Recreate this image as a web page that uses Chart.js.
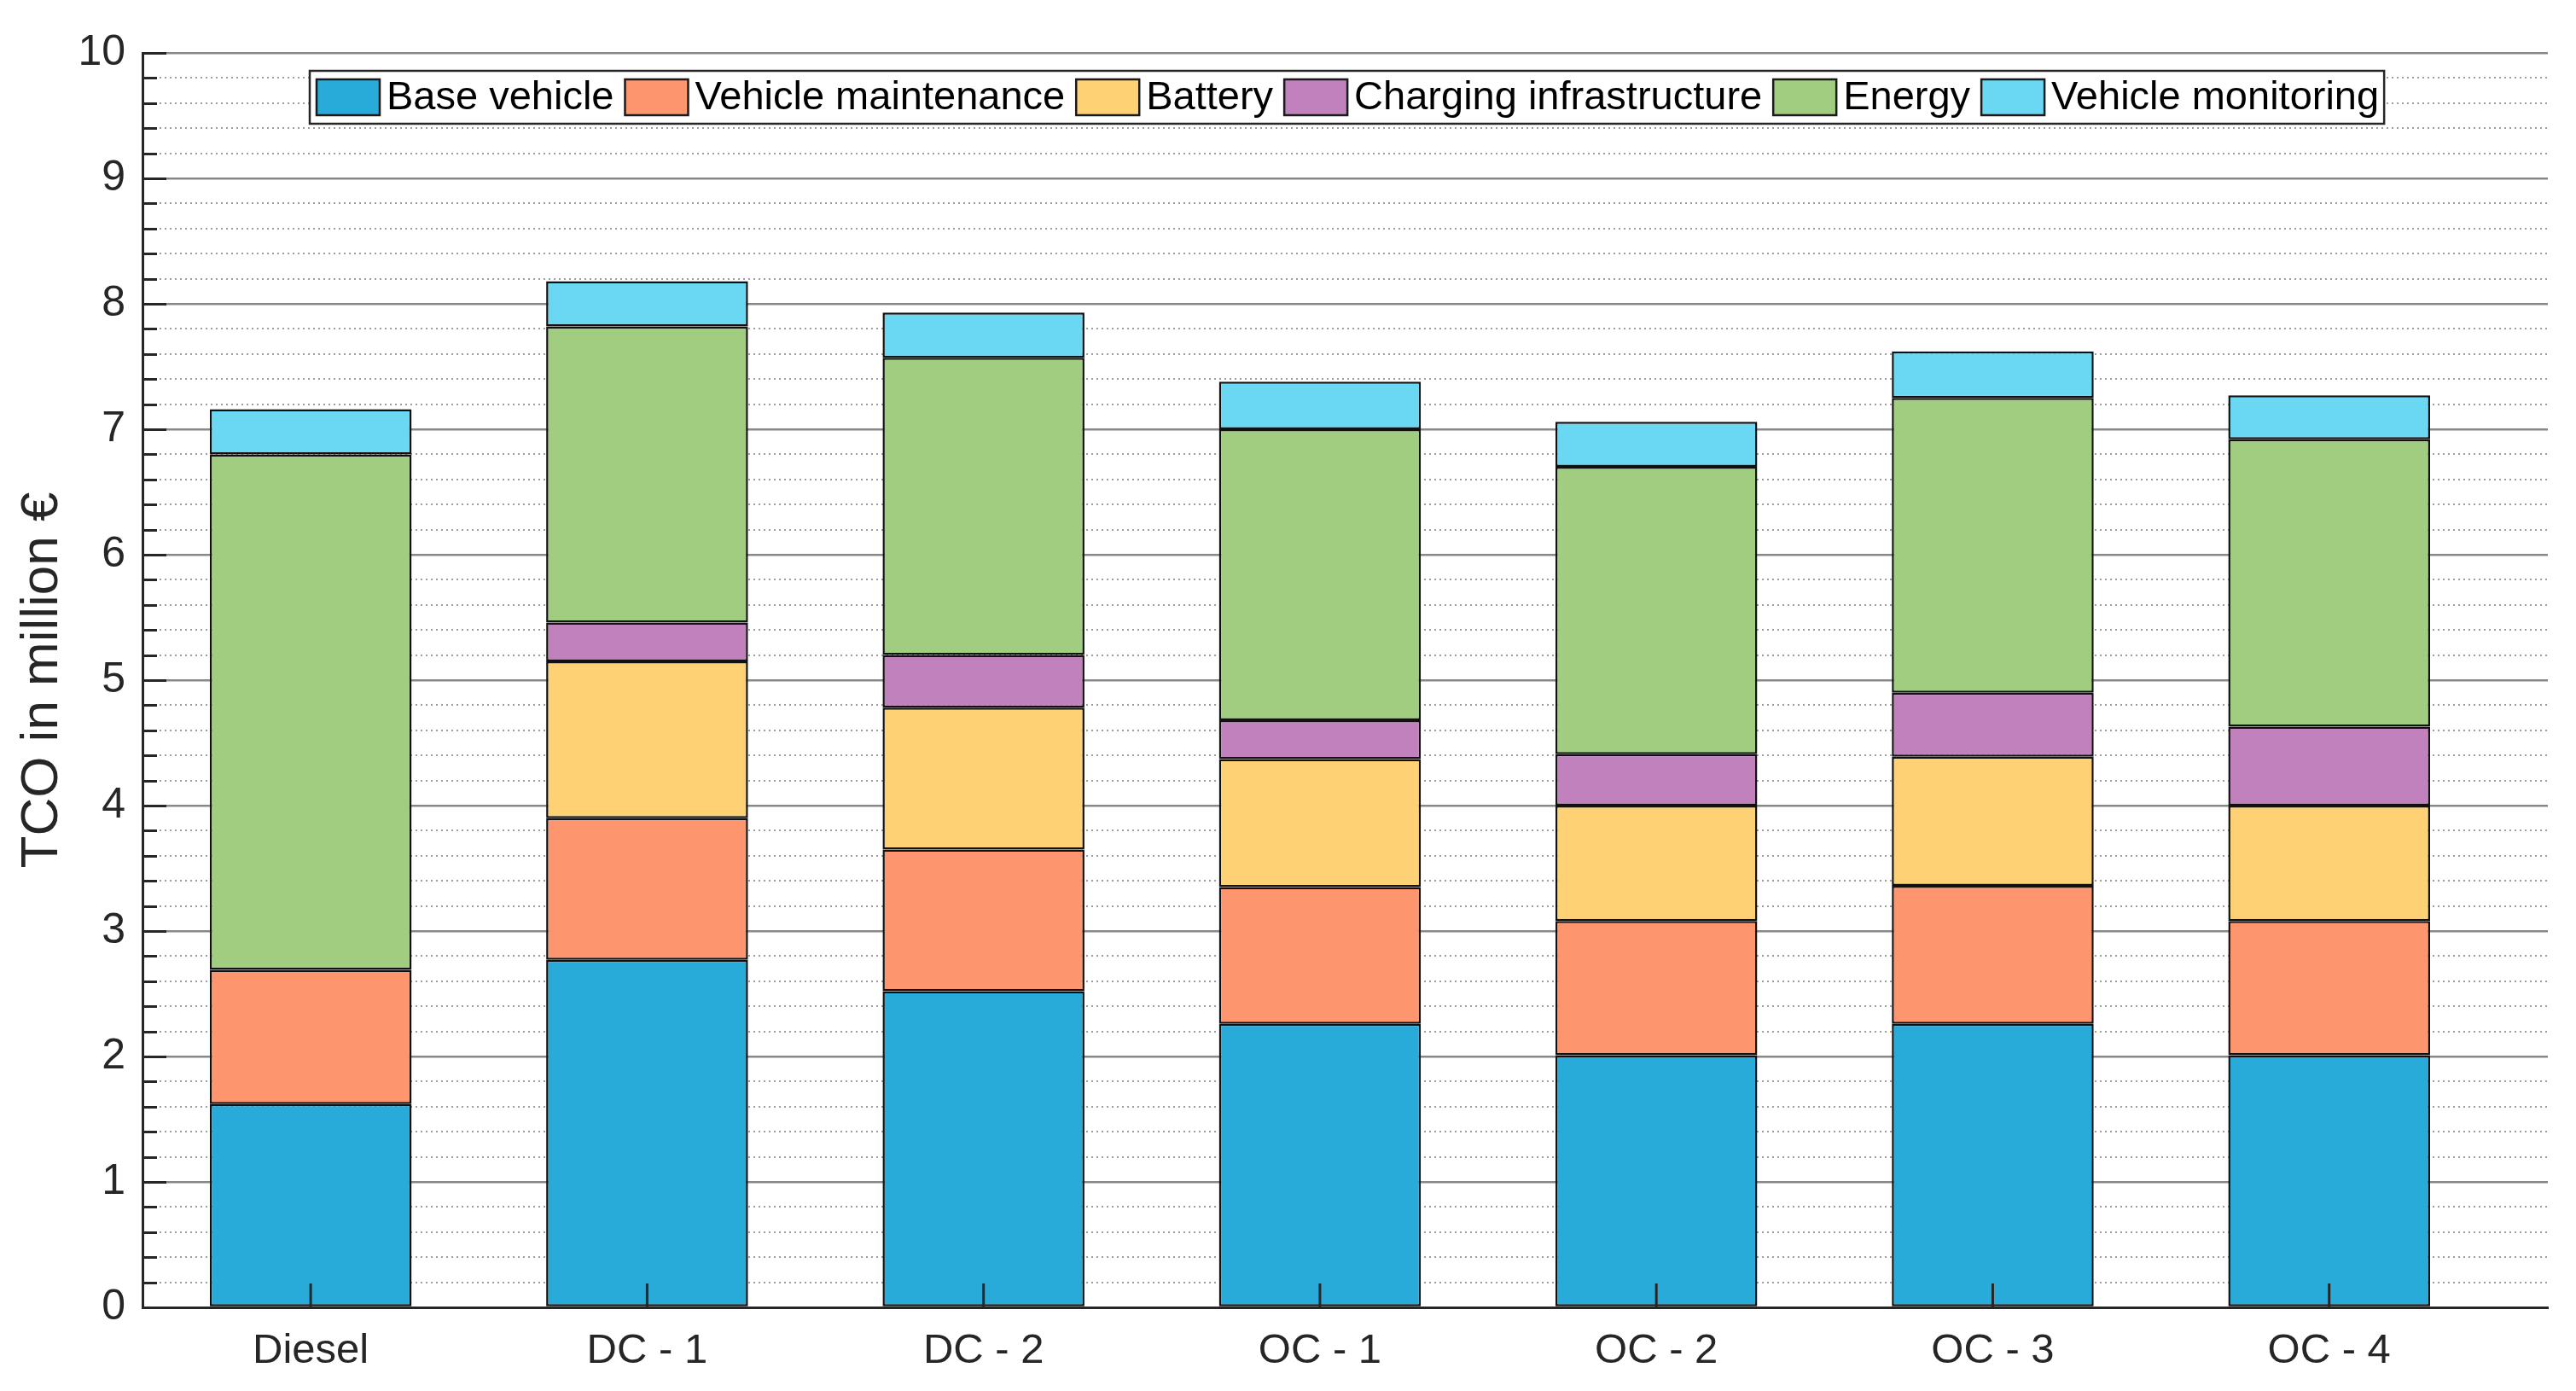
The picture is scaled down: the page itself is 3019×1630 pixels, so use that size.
<!DOCTYPE html>
<html>
<head>
<meta charset="utf-8">
<script src="https://cdn.jsdelivr.net/npm/chart.js@4.4.1/dist/chart.umd.min.js"></script>
<style>
  html, body { margin: 0; padding: 0; background: #ffffff; }
  #wrap { width: 3019px; height: 1630px; }
</style>
</head>
<body>
<div id="wrap"><canvas id="c" width="3019" height="1630"></canvas></div>
<script>
// ---- Data (million €) ----
const categories = ['Diesel', 'DC - 1', 'DC - 2', 'OC - 1', 'OC - 2', 'OC - 3', 'OC - 4'];
const seriesNames = ['Base vehicle', 'Vehicle maintenance', 'Battery', 'Charging infrastructure', 'Energy', 'Vehicle monitoring'];
const baseVehicle        = [1.62, 2.77, 2.52, 2.26, 2.01, 2.26, 2.01];
const vehicleMaintenance = [1.07, 1.13, 1.13, 1.09, 1.07, 1.10, 1.07];
const battery            = [0.00, 1.25, 1.13, 1.02, 0.92, 1.03, 0.92];
const chargingInfra      = [0.00, 0.31, 0.42, 0.31, 0.41, 0.51, 0.63];
const energy             = [4.11, 2.36, 2.37, 2.32, 2.29, 2.35, 2.29];
const vehicleMonitoring  = [0.36, 0.36, 0.36, 0.38, 0.36, 0.37, 0.35];
const yTickValues = [0, 1, 2, 3, 4, 5, 6, 7, 8, 9, 10];

const seriesValues = [baseVehicle, vehicleMaintenance, battery, chargingInfra, energy, vehicleMonitoring];
const seriesColors = ['#29abd9', '#fd966e', '#fed174', '#c081bc', '#a0cd7f', '#6bd8f3'];

const FONT = "'Liberation Sans', Arial, Helvetica, sans-serif";
const AX = '#262626';

function isMajor(v) { return Math.abs(v - Math.round(v)) < 1e-6; }

const datasets = seriesNames.map((name, k) => ({
  label: name,
  data: categories.map((c, i) => ({ x: i + 1, y: seriesValues[k][i] })),
  backgroundColor: seriesColors[k],
  borderColor: '#111111',
  borderWidth: c => (c.raw && c.raw.y === 0) ? 0 : 2.5,
  borderSkipped: false,
  barPercentage: 0.6,
  categoryPercentage: 1.0
}));

// inner tick marks (MATLAB style) drawn from the scales
const innerTicks = {
  id: 'innerTicks',
  afterDraw(chart) {
    const ctx = chart.ctx, xs = chart.scales.x, ys = chart.scales.y;
    const a = chart.chartArea;
    ctx.save();
    ctx.strokeStyle = AX;
    ctx.lineWidth = 3;
    ys.ticks.forEach(t => {
      const y = Math.round(ys.getPixelForValue(t.value)) + 0.5;
      const len = isMajor(t.value) ? 28 : 17;
      ctx.beginPath(); ctx.moveTo(a.left, y); ctx.lineTo(a.left + len, y); ctx.stroke();
    });
    xs.ticks.forEach(t => {
      const x = xs.getPixelForValue(t.value);
      ctx.beginPath(); ctx.moveTo(x, a.bottom); ctx.lineTo(x, a.bottom - 28); ctx.stroke();
    });
    ctx.restore();
  }
};

// boxed legend inside the plot area (north)
const boxLegend = {
  id: 'boxLegend',
  afterDraw(chart) {
    const ctx = chart.ctx, a = chart.chartArea;
    ctx.save();
    ctx.font = '47px ' + FONT;
    const swW = 74, swH = 42, gapSw = 8, gapItem = 13, padL = 8, padR = 6;
    const widths = chart.data.datasets.map(d => ctx.measureText(d.label).width);
    let total = padL + padR;
    widths.forEach((w, i) => { total += swW + gapSw + w + (i < widths.length - 1 ? gapItem : 0); });
    const boxH = 62;
    const left = Math.round(a.left + 196);
    const top = a.top + 21;
    ctx.fillStyle = '#ffffff';
    ctx.fillRect(left, top, total, boxH);
    ctx.strokeStyle = '#262626';
    ctx.lineWidth = 2.5;
    ctx.strokeRect(left, top, total, boxH);
    let x = left + padL;
    chart.data.datasets.forEach((d, i) => {
      const sy = top + (boxH - swH) / 2;
      ctx.fillStyle = d.backgroundColor;
      ctx.fillRect(x, sy, swW, swH);
      ctx.strokeStyle = '#1a1a1a';
      ctx.lineWidth = 2.5;
      ctx.strokeRect(x, sy, swW, swH);
      x += swW + gapSw;
      ctx.fillStyle = '#000000';
      ctx.textBaseline = 'middle';
      ctx.textAlign = 'left';
      ctx.fillText(d.label, x, top + boxH / 2 + 1);
      x += widths[i] + gapItem;
    });
    ctx.restore();
  }
};

Chart.defaults.font.family = FONT;
Chart.defaults.color = AX;

new Chart(document.getElementById('c'), {
  type: 'bar',
  data: { datasets },
  options: {
    responsive: false,
    animation: false,
    devicePixelRatio: 1,
    layout: { padding: { top: 62, right: 33, left: 0, bottom: 0 } },
    plugins: {
      legend: { display: false },
      tooltip: { enabled: false }
    },
    scales: {
      x: {
        type: 'linear',
        stacked: true,
        offset: false,
        min: 0.5,
        max: 7.65,
        z: 1,
        afterBuildTicks: s => { s.ticks = categories.map((c, i) => ({ value: i + 1 })); },
        afterFit: s => { s.height = 98; },
        grid: { display: false, drawTicks: false, offset: false },
        border: { display: true, color: AX, width: 3 },
        ticks: {
          autoSkip: false,
          maxRotation: 0,
          padding: 22,
          color: AX,
          font: { size: 49, family: FONT },
          callback: (v) => categories[Math.round(v) - 1]
        }
      },
      y: {
        stacked: true,
        min: 0,
        max: 10,
        z: 1,
        afterFit: s => { s.width = 167; },
        ticks: {
          stepSize: 0.2,
          maxTicksLimit: 200,
          autoSkip: false,
          padding: 20,
          color: AX,
          font: { size: 50, family: FONT },
          callback: (v) => (isMajor(v) && yTickValues.includes(Math.round(v))) ? String(Math.round(v)) : ''
        },
        grid: {
          drawTicks: false,
          color: c => (c.tick && isMajor(c.tick.value)) ? 'rgba(38,38,38,0.55)' : 'rgba(38,38,38,0.45)',
          lineWidth: c => (c.tick && isMajor(c.tick.value)) ? 2.5 : 2
        },
        border: {
          display: true,
          color: AX,
          width: 3,
          dash: c => (c.tick && !isMajor(c.tick.value)) ? [2, 4] : []
        },
        title: {
          display: true,
          text: 'TCO in million €',
          color: AX,
          font: { size: 62, family: FONT },
          padding: { top: 13, bottom: 0 }
        }
      }
    }
  },
  plugins: [innerTicks, boxLegend]
});
</script>
</body>
</html>
